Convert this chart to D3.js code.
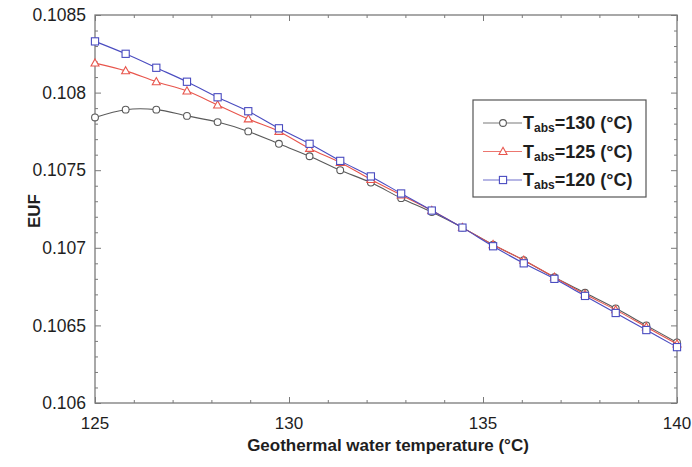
<!DOCTYPE html>
<html>
<head>
<meta charset="utf-8">
<script src="https://cdn.jsdelivr.net/npm/d3@7"></script>
<style>
  html, body { margin: 0; padding: 0; background: #fff; }
  svg { display: block; font-family: "Liberation Sans", Arial, sans-serif; }
</style>
</head>
<body>
<svg id="chart" width="692" height="467"></svg>
<script>
// Geothermal water temperature (°C), sampled at 20 points from 125 to 140
const temps = [125, 125.79, 126.58, 127.37, 128.16, 128.95, 129.74, 130.53, 131.32, 132.11,
               132.89, 133.68, 134.47, 135.26, 136.05, 136.84, 137.63, 138.42, 139.21, 140];

// EUF for each absorber temperature
const euf130 = [0.10784, 0.10789, 0.10789, 0.10785, 0.10781, 0.10775, 0.10767, 0.10759, 0.10750, 0.10742,
                0.10732, 0.10723, 0.10713, 0.10702, 0.10692, 0.10681, 0.10671, 0.10661, 0.10650, 0.10639];
const euf125 = [0.10819, 0.10814, 0.10807, 0.10801, 0.10792, 0.10783, 0.10775, 0.10764, 0.10755, 0.10744,
                0.10734, 0.10724, 0.10713, 0.10702, 0.10692, 0.10681, 0.10670, 0.10660, 0.10649, 0.10638];
const euf120 = [0.10833, 0.10825, 0.10816, 0.10807, 0.10797, 0.10788, 0.10777, 0.10767, 0.10756, 0.10746,
                0.10735, 0.10724, 0.10713, 0.10701, 0.10690, 0.10680, 0.10669, 0.10658, 0.10647, 0.10636];

const seriesLabels = ["130", "125", "120"];
const xTicks = [125, 130, 135, 140];
const yTicks = [0.106, 0.1065, 0.107, 0.1075, 0.108, 0.1085];

const series = [
  { label: seriesLabels[0], values: euf130, color: "#5a5a5a", marker: "circle" },
  { label: seriesLabels[1], values: euf125, color: "#e8554c", marker: "triangle" },
  { label: seriesLabels[2], values: euf120, color: "#4a4cc0", marker: "square" }
];

const svg = d3.select("#chart");
const margin = { left: 95, right: 15, top: 15, bottom: 64 };
const W = 692, H = 467;
const x = d3.scaleLinear().domain([125, 140]).range([margin.left, W - margin.right]);
const y = d3.scaleLinear().domain([0.106, 0.1085]).range([H - margin.bottom, margin.top]);

const frameColor = "#7a7a7a";
const textColor = "#1e1e1e";

// inward ticks on all four sides
function tickAxis(axisFn, scale, major, minor, transform) {
  const gMinor = svg.append("g").attr("transform", transform)
    .call(axisFn(scale).tickValues(minor).tickSize(-3).tickFormat(""));
  const gMajor = svg.append("g").attr("transform", transform)
    .call(axisFn(scale).tickValues(major).tickSize(-6).tickFormat(""));
  [gMinor, gMajor].forEach(g => {
    g.select(".domain").remove();
    g.selectAll("line").attr("stroke", frameColor).attr("stroke-width", 1);
  });
}
const xMinor = d3.range(126, 140, 1).filter(v => v % 5 !== 0);
const yMinor = d3.range(1, 25).map(i => 0.106 + i * 0.0001).filter(v => Math.abs(v * 2000 - Math.round(v * 2000)) > 1e-6);

tickAxis(d3.axisBottom, x, xTicks, xMinor, `translate(0,${H - margin.bottom})`);
tickAxis(d3.axisTop, x, xTicks, xMinor, `translate(0,${margin.top})`);
tickAxis(d3.axisLeft, y, yTicks, yMinor, `translate(${margin.left},0)`);
tickAxis(d3.axisRight, y, yTicks, yMinor, `translate(${W - margin.right},0)`);

// frame
svg.append("rect")
  .attr("x", margin.left).attr("y", margin.top)
  .attr("width", W - margin.left - margin.right)
  .attr("height", H - margin.top - margin.bottom)
  .attr("fill", "none").attr("stroke", frameColor).attr("stroke-width", 1.3);

// tick labels
svg.append("g").selectAll("text").data(xTicks).join("text")
  .attr("x", d => x(d)).attr("y", H - margin.bottom + 26)
  .attr("text-anchor", "middle").attr("font-size", 17).attr("fill", textColor)
  .text(d => d);
svg.append("g").selectAll("text").data(yTicks).join("text")
  .attr("x", margin.left - 9).attr("y", d => y(d)).attr("dy", "0.35em")
  .attr("text-anchor", "end").attr("font-size", 17.5).attr("fill", textColor)
  .text(d => d3.format("")(+d.toFixed(4)));

// axis titles
svg.append("text")
  .attr("x", (margin.left + W - margin.right) / 2 + 2).attr("y", H - 16)
  .attr("text-anchor", "middle").attr("font-size", 17).attr("font-weight", "bold").attr("fill", textColor)
  .text("Geothermal water temperature (°C)");
svg.append("text")
  .attr("transform", `translate(40,${(margin.top + H - margin.bottom) / 2 + 2}) rotate(-90)`)
  .attr("text-anchor", "middle").attr("font-size", 17).attr("font-weight", "bold").attr("fill", textColor)
  .text("EUF");

// curves
const line = d3.line().x((d, i) => x(temps[i])).y(d => y(d)).curve(d3.curveCatmullRom);

function drawMarker(g, type, cx, cy, color) {
  if (type === "circle") {
    g.append("circle").attr("cx", cx).attr("cy", cy).attr("r", 3.4)
      .attr("fill", "#fff").attr("stroke", color).attr("stroke-width", 1.1);
  } else if (type === "square") {
    g.append("rect").attr("x", cx - 3.6).attr("y", cy - 3.6).attr("width", 7.2).attr("height", 7.2)
      .attr("fill", "#fff").attr("stroke", color).attr("stroke-width", 1.1);
  } else {
    const s = 4.2;
    g.append("path")
      .attr("d", `M${cx},${cy - s}L${cx + s * 0.95},${cy + s * 0.7}L${cx - s * 0.95},${cy + s * 0.7}Z`)
      .attr("fill", "#fff").attr("stroke", color).attr("stroke-width", 1.1);
  }
}

series.forEach(s => {
  const g = svg.append("g");
  g.append("path").datum(s.values).attr("d", line)
    .attr("fill", "none").attr("stroke", s.color).attr("stroke-width", 1.1);
  s.values.forEach((v, i) => drawMarker(g, s.marker, x(temps[i]), y(v), s.color));
});

// legend
const lg = svg.append("g");
lg.append("rect").attr("x", 473).attr("y", 100).attr("width", 173).attr("height", 97)
  .attr("fill", "#fff").attr("stroke", "#555").attr("stroke-width", 1.2);
series.forEach((s, i) => {
  const cy = 123 + i * 28.5;
  lg.append("line").attr("x1", 483).attr("x2", 522).attr("y1", cy).attr("y2", cy)
    .attr("stroke", s.color).attr("stroke-width", 1.1).attr("opacity", 0.8);
  drawMarker(lg, s.marker, 503, cy, s.color);
  const t = lg.append("text").attr("x", 523).attr("y", cy + 6)
    .attr("font-size", 18).attr("font-weight", "bold").attr("fill", textColor);
  t.append("tspan").text("T");
  t.append("tspan").attr("font-size", 12).attr("dy", 3).text("abs");
  t.append("tspan").attr("dy", -3).text(`=${s.label} (°C)`);
});
</script>
</body>
</html>
